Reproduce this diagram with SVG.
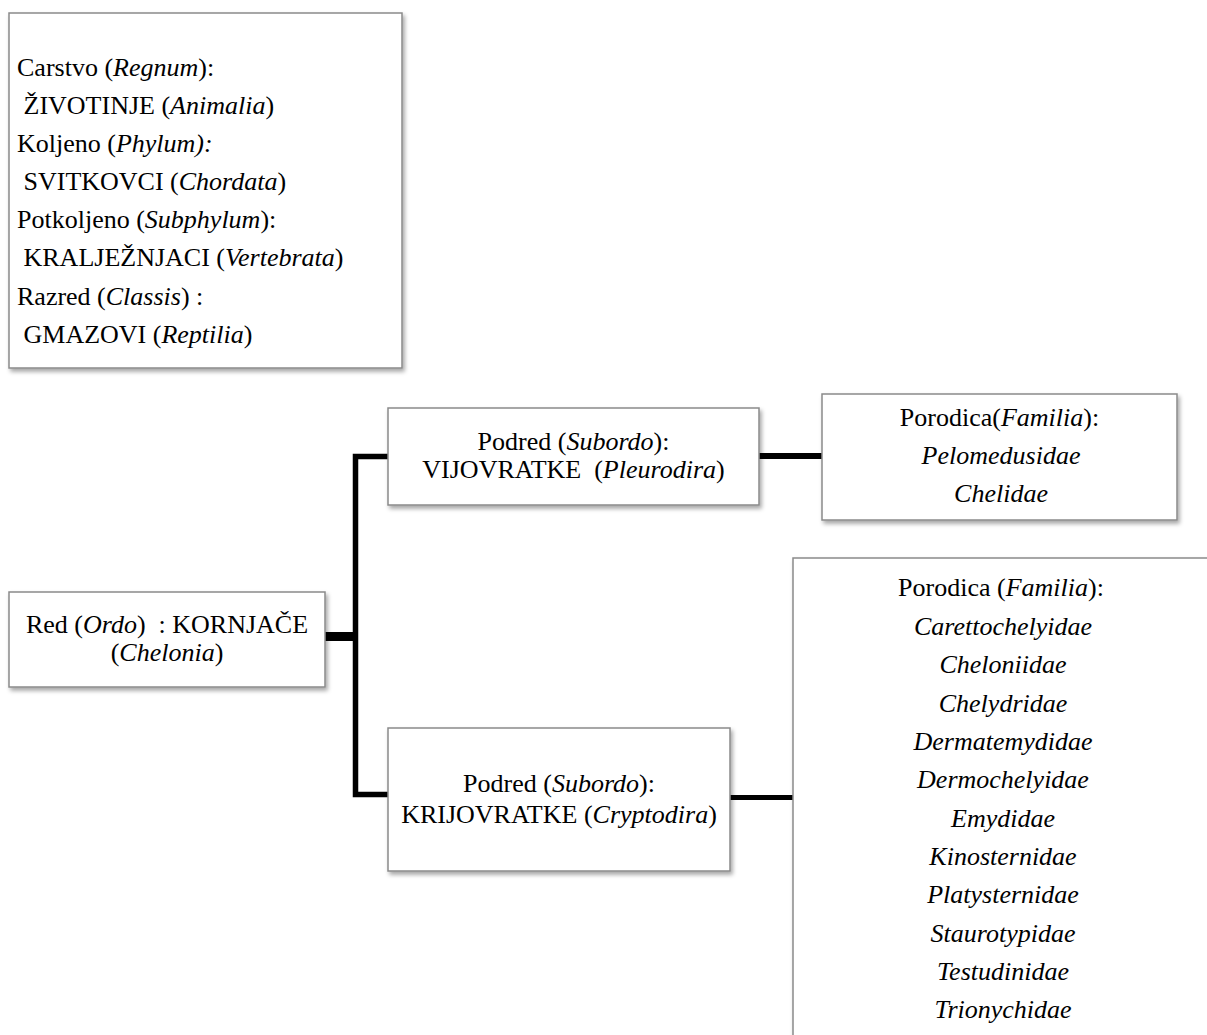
<svg xmlns="http://www.w3.org/2000/svg" width="1207" height="1035" viewBox="0 0 1207 1035">
<style>
.box{fill:#fff;stroke:#8a8a8a;stroke-width:1.5;filter:url(#sh)}
text{font-size:26px;fill:#000;white-space:pre}
.c{text-anchor:middle}
.i{font-style:italic}
.conn{fill:none;stroke:#000}
</style>
<defs>
<filter id="sh" x="-5%" y="-5%" width="115%" height="120%">
<feDropShadow dx="2" dy="3" stdDeviation="2" flood-color="#000" flood-opacity="0.35"/>
</filter>
</defs>
<rect width="1207" height="1035" fill="#fff"/>
<g id="connectors">
<path class="conn" d="M325,636.5 H356" stroke-width="9"/>
<path class="conn" d="M388,456.5 H355.5 V794.5 H388" stroke-width="5.5" stroke-linejoin="miter"/>
<path class="conn" d="M759,456 H822" stroke-width="6"/>
<path class="conn" d="M730,797.5 H793" stroke-width="5"/>
</g>
<g font-family="'Liberation Serif', 'Times New Roman', serif">
<g id="taxonomy">
<rect class="box" x="9" y="13" width="393" height="355"/>
<text x="17" y="76">Carstvo (<tspan class="i">Regnum</tspan>):</text>
<text x="17" y="114"> ŽIVOTINJE (<tspan class="i">Animalia</tspan>)</text>
<text x="17" y="152">Koljeno (<tspan class="i">Phylum):</tspan></text>
<text x="17" y="190"> SVITKOVCI (<tspan class="i">Chordata</tspan>)</text>
<text x="17" y="228">Potkoljeno (<tspan class="i">Subphylum</tspan>):</text>
<text x="17" y="266"> KRALJEŽNJACI (<tspan class="i">Vertebrata</tspan>)</text>
<text x="17" y="305">Razred (<tspan class="i">Classis</tspan>) :</text>
<text x="17" y="343"> GMAZOVI (<tspan class="i">Reptilia</tspan>)</text>
</g>
<g id="red">
<rect class="box" x="9" y="592" width="316" height="95"/>
<text class="c" x="167" y="633">Red (<tspan class="i">Ordo</tspan>)  : KORNJAČE</text>
<text class="c" x="167" y="661">(<tspan class="i">Chelonia</tspan>)</text>
</g>
<g id="pleurodira">
<rect class="box" x="388" y="408" width="371" height="97"/>
<text class="c" x="573.5" y="450">Podred (<tspan class="i">Subordo</tspan>):</text>
<text class="c" x="573.5" y="478">VIJOVRATKE  (<tspan class="i">Pleurodira</tspan>)</text>
</g>
<g id="cryptodira">
<rect class="box" x="388" y="728" width="342" height="143"/>
<text class="c" x="559" y="792">Podred (<tspan class="i">Subordo</tspan>):</text>
<text class="c" x="559" y="823">KRIJOVRATKE (<tspan class="i">Cryptodira</tspan>)</text>
</g>
<g id="familia-pleurodira">
<rect class="box" x="822" y="394" width="355" height="126"/>
<text class="c" x="999.5" y="426">Porodica(<tspan class="i">Familia</tspan>):</text>
<text class="c i" x="1001" y="464">Pelomedusidae</text>
<text class="c i" x="1001" y="502">Chelidae</text>
</g>
<g id="familia-cryptodira">
<rect class="box" x="793" y="558" width="440" height="520"/>
<text class="c" x="1001" y="596">Porodica (<tspan class="i">Familia</tspan>):</text>
<text class="c i" x="1003" y="635">Carettochelyidae</text>
<text class="c i" x="1003" y="673">Cheloniidae</text>
<text class="c i" x="1003" y="711.5">Chelydridae</text>
<text class="c i" x="1003" y="750">Dermatemydidae</text>
<text class="c i" x="1003" y="788">Dermochelyidae</text>
<text class="c i" x="1003" y="826.5">Emydidae</text>
<text class="c i" x="1003" y="865">Kinosternidae</text>
<text class="c i" x="1003" y="903">Platysternidae</text>
<text class="c i" x="1003" y="941.5">Staurotypidae</text>
<text class="c i" x="1003" y="980">Testudinidae</text>
<text class="c i" x="1003" y="1018">Trionychidae</text>
</g>
</g>
</svg>
